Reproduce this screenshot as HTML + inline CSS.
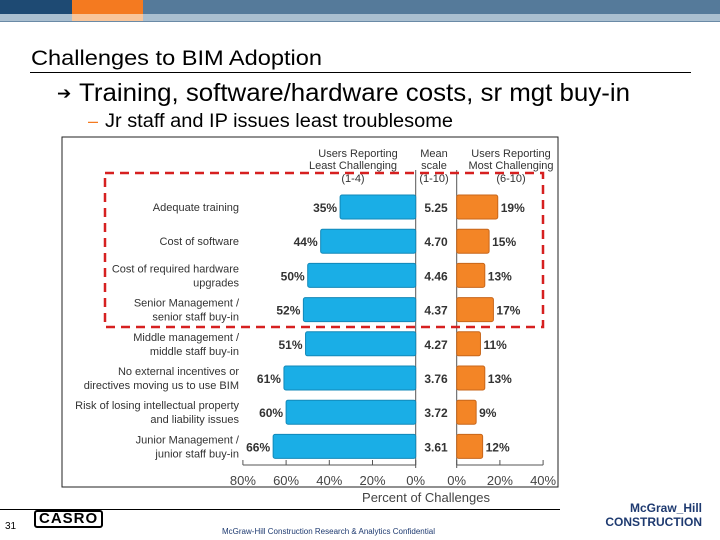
<!DOCTYPE html>
<html><head><meta charset="utf-8"><style>
body{margin:0;width:720px;height:540px;overflow:hidden;background:#fff;font-family:"Liberation Sans",sans-serif;position:relative}
.abs{position:absolute}
</style></head><body>
<div class="abs" style="left:0;top:0;width:720px;height:14px;background:#557a9a"></div>
<div class="abs" style="left:0;top:0;width:72px;height:14px;background:#1e4a73"></div>
<div class="abs" style="left:72px;top:0;width:71px;height:14px;background:#f47a20"></div>
<div class="abs" style="left:0;top:14px;width:720px;height:8px;background:#aabfd0"></div>
<div class="abs" style="left:72px;top:14px;width:71px;height:8px;background:#f8c59a"></div>
<div class="abs" style="left:0;top:21px;width:720px;height:1px;background:#6a8aa6"></div>

<svg class="abs" style="left:0;top:0" width="720" height="140">
<text x="31" y="65" font-size="21" textLength="291" lengthAdjust="spacingAndGlyphs" font-family="Liberation Sans, sans-serif">Challenges to BIM Adoption</text>
<line x1="30" y1="72.5" x2="691" y2="72.5" stroke="#000"/>
<text x="57" y="99" font-size="17" font-weight="bold" font-family="DejaVu Sans, sans-serif" fill="#000">➔</text>
<text x="79" y="101" font-size="25" textLength="551" lengthAdjust="spacingAndGlyphs" font-family="Liberation Sans, sans-serif">Training, software/hardware costs, sr mgt buy-in</text>
<text x="88" y="127" font-size="18" fill="#f47a20" font-family="Liberation Sans, sans-serif">–</text>
<text x="105" y="127" font-size="19" textLength="348" lengthAdjust="spacingAndGlyphs" font-family="Liberation Sans, sans-serif">Jr staff and IP issues least troublesome</text>
</svg>

<svg class="abs" style="left:0;top:0" width="720" height="540">
<rect x="62" y="137" width="496" height="350" fill="none" stroke="#222" stroke-width="1"/>
<g id="g" font-family="Liberation Sans, sans-serif"></g>
<rect x="105" y="173" width="438" height="154" fill="none" stroke="#d62020" stroke-width="2.5" stroke-dasharray="9,6"/>
</svg>

<div class="abs" style="left:0;top:509px;width:560px;height:1px;background:#000"></div>
<div class="abs" style="left:5px;top:521px;font-size:10px;color:#000">31</div>
<div class="abs" style="left:34px;top:510px;font-size:15px;font-weight:bold;letter-spacing:1px;border:2px solid #000;border-radius:3px;padding:0 3px;line-height:14px">CASRO</div>
<div class="abs" style="left:222px;top:527px;font-size:8px;color:#1e3a70">McGraw-Hill Construction Research &amp; Analytics Confidential</div>
<div class="abs" style="left:600px;top:501px;font-size:12px;font-weight:bold;color:#1e3a70;line-height:14px;text-align:right;width:102px">McGraw_Hill<br>CONSTRUCTION</div>

<script>
const categories=[["Adequate training"],["Cost of software"],["Cost of required hardware","upgrades"],["Senior Management /","senior staff buy-in"],["Middle management /","middle staff buy-in"],["No external incentives or","directives moving us to use BIM"],["Risk of losing intellectual property","and liability issues"],["Junior Management /","junior staff buy-in"]];
const leastValues=[35,44,50,52,51,61,60,66];
const meanValues=["5.25","4.70","4.46","4.37","4.27","3.76","3.72","3.61"];
const mostValues=[19,15,13,17,11,13,9,12];
const leftTicks=[80,60,40,20,0];
const rightTicks=[0,20,40];
const NS="http://www.w3.org/2000/svg";
const g=document.getElementById('g');
const L0=415.7,R0=456.7,K=2.16,Y0=207,DY=34.2,BH=24;
const xl=v=>L0-v*K, xr=v=>R0+v*K, yc=i=>Y0+i*DY;
function mk(t,a,txt){const e=document.createElementNS(NS,t);for(const k in a)e.setAttribute(k,a[k]);if(txt!=null)e.textContent=txt;g.appendChild(e);return e;}
[["Users Reporting",358,157],["Least Challenging",353,169],["(1-4)",353,182],["Mean",434,157],["scale",434,169],["(1-10)",434,182],["Users Reporting",511,157],["Most Challenging",511,169],["(6-10)",511,182]].forEach(h=>{
const t=mk('text',{x:h[1],y:h[2],'font-size':11,'text-anchor':'middle',fill:'#333'},h[0]);

});
let ln=mk('line',{x1:L0,y1:170,x2:L0,y2:468,stroke:'#555'});

ln=mk('line',{x1:R0,y1:170,x2:R0,y2:468,stroke:'#555'});

categories.forEach((c,i)=>{
const y=yc(i);
c.forEach((s,j)=>{const t=mk('text',{x:239,y:y+4+(c.length==2?(j?7:-7):0),'font-size':11,'text-anchor':'end',fill:'#333'},s);

});
let b=mk('rect',{x:xl(leastValues[i]),y:y-BH/2,width:leastValues[i]*K,height:BH,fill:'#1aaee6',stroke:'#1288b8','stroke-width':1,rx:2});


let t=mk('text',{x:xl(leastValues[i])-3,y:y+5,'font-size':12,'font-weight':'bold','text-anchor':'end',fill:'#333'},leastValues[i]+'%');


t=mk('text',{x:436,y:y+5,'font-size':12,'font-weight':'bold','text-anchor':'middle',fill:'#333'},meanValues[i]);


b=mk('rect',{x:R0,y:y-BH/2,width:mostValues[i]*K,height:BH,fill:'#f38526',stroke:'#c8661a','stroke-width':1,rx:2});


t=mk('text',{x:xr(mostValues[i])+3,y:y+5,'font-size':12,'font-weight':'bold',fill:'#333'},mostValues[i]+'%');


});
ln=mk('line',{x1:xl(80),y1:465,x2:L0,y2:465,stroke:'#555'});

ln=mk('line',{x1:R0,y1:465,x2:xr(40),y2:465,stroke:'#555'});

leftTicks.forEach(v=>{const x=xl(v);mk('line',{x1:x,y1:460,x2:x,y2:465,stroke:'#555'});
const t=mk('text',{x:x,y:485,'font-size':13,'text-anchor':'middle',fill:'#444'},v+'%');
});
rightTicks.forEach(v=>{const x=xr(v);mk('line',{x1:x,y1:460,x2:x,y2:465,stroke:'#555'});
const t=mk('text',{x:x,y:485,'font-size':13,'text-anchor':'middle',fill:'#444'},v+'%');
});
const xt=mk('text',{x:426,y:502,'font-size':13,'text-anchor':'middle',fill:'#444'},'Percent of Challenges');


</script>
</body></html>
